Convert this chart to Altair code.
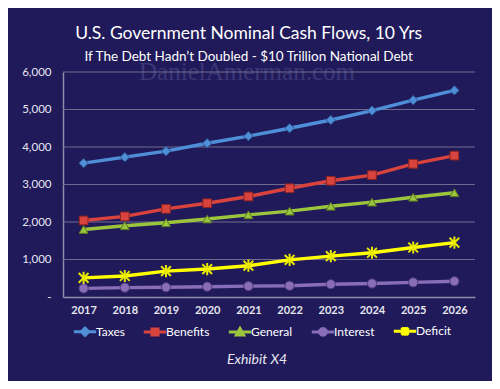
import altair as alt
import pandas as pd

years = ["2017", "2018", "2019", "2020", "2021", "2022", "2023", "2024", "2025", "2026"]
series_names = ["Taxes", "Benefits", "General", "Interest", "Deficit"]
taxes = [3570, 3730, 3890, 4100, 4290, 4500, 4720, 4970, 5250, 5510]
benefits = [2040, 2150, 2350, 2500, 2680, 2900, 3100, 3250, 3550, 3770]
general = [1800, 1900, 1980, 2080, 2190, 2290, 2420, 2530, 2660, 2780]
interest = [230, 250, 260, 275, 290, 300, 340, 360, 390, 420]
deficit = [510, 560, 690, 745, 835, 990, 1090, 1180, 1320, 1450]
y_ticks = [0, 1000, 2000, 3000, 4000, 5000, 6000]
grid_values = [1000, 2000, 3000, 4000, 5000, 6000]

title_text = "U.S. Government Nominal Cash Flows, 10 Yrs"
subtitle_text = "If The Debt Hadn\u2019t Doubled - $10 Trillion National Debt"
watermark_text = "DanielAmerman.com"
footer_text = "Exhibit X4"

values = {"Taxes": taxes, "Benefits": benefits, "General": general,
          "Interest": interest, "Deficit": deficit}
rows = []
for s in series_names:
    for yr, v in zip(years, values[s]):
        rows.append({"year": yr, "series": s, "value": v})
df = pd.DataFrame(rows)

BG = "#201a5b"
colors = ["#4f8fd8", "#d8433d", "#9cc53e", "#8a6db8", "#ffff00"]
edge = ["#2c5c98", "#8e2521", "#5b7c1f", "#4e3b78", "#e8e800"]
point_shapes = ["diamond", "square", "triangle-up", "circle",
                "M-1,-1L1,1M1,-1L-1,1M0,-1.25L0,1.25"]
point_sizes = [85, 75, 80, 85, 95]
legend_paths = [
    "M-2.8,0H2.8M0,-0.9L0.9,0L0,0.9L-0.9,0Z",
    "M-2.8,0H2.8M-0.75,-0.75H0.75V0.75H-0.75Z",
    "M-2.8,0H2.8M0,-0.9L0.9,0.7H-0.9Z",
    "M-2.8,0H2.8M-0.8,-0.33L-0.33,-0.8L0.33,-0.8L0.8,-0.33L0.8,0.33L0.33,0.8L-0.33,0.8L-0.8,0.33Z",
    "M-2.8,0H2.8M-0.9,-0.9L0.9,0.9M0.9,-0.9L-0.9,0.9M0,-1.1L0,1.1",
]

FONT = "Lato"
color_scale = alt.Scale(domain=series_names, range=colors)

x_axis = alt.Axis(labelAngle=0, ticks=False, domain=True, domainColor="#8f8ea8",
                  domainWidth=1.5, labelPadding=7, labelFont=FONT, labelFontSize=11,
                  labelFontWeight="bold", labelColor="#e6e6ee", grid=False)
y_axis = alt.Axis(values=y_ticks, ticks=False, domain=True, domainColor="#8f8ea8",
                  domainWidth=1.5, grid=False,
                  labelPadding=12, labelFont=FONT, labelFontSize=11.5,
                  labelColor="#e6e6ee", labelOverlap=False,
                  labelExpr="datum.value == 0 ? '-' : format(datum.value, ',')")
y_scale = alt.Scale(domain=[0, 6000], nice=False)


def xe():
    return alt.X("year:O", title=None, axis=x_axis)


def ye(field="value:Q"):
    return alt.Y(field, title=None, scale=y_scale, axis=y_axis)


base = alt.Chart(df)

gridlines = alt.Chart(pd.DataFrame({"value": grid_values})).mark_rule(
    color="#6e6c8e", strokeWidth=1.2).encode(y=ye())

watermark = alt.Chart(pd.DataFrame({"t": [watermark_text]})).mark_text(
    font="Liberation Serif", fontSize=25, color="#3c3776", align="center",
    baseline="alphabetic").encode(text="t:N", x=alt.value(184), y=alt.value(8))

lines = base.mark_line(strokeWidth=3.5).encode(
    x=xe(), y=ye(),
    color=alt.Color("series:N", scale=color_scale, sort=series_names, title=None),
    order=alt.Order("year:O"),
)

point_layers = []
for i, s in enumerate(series_names):
    is_star = i == 4
    point_layers.append(
        base.transform_filter(alt.datum.series == s).mark_point(
            filled=True, shape=point_shapes[i], size=point_sizes[i], opacity=1,
            stroke=edge[i], strokeWidth=2 if is_star else 1, fill=colors[i]
        ).encode(x=xe(), y=ye())
    )

legend_layer = base.transform_filter("datum.value < -1").mark_point(
    filled=True, strokeWidth=3, opacity=1
).encode(
    color=alt.Color("series:N", scale=color_scale, sort=series_names, title=None,
                    legend=alt.Legend(orient="none", direction="horizontal",
                                      legendX=16, legendY=253, title=None,
                                      symbolSize=64, symbolStrokeWidth=3,
                                      labelFont=FONT, labelFontSize=12,
                                      labelColor="white", labelOffset=5,
                                      columnPadding=12, padding=0,
                                      symbolOpacity=1)),
    stroke=alt.Stroke("series:N", scale=alt.Scale(domain=series_names, range=colors),
                      sort=series_names, title=None),
    shape=alt.Shape("series:N", scale=alt.Scale(domain=series_names, range=legend_paths),
                    sort=series_names, title=None),
)

footer = alt.Chart(pd.DataFrame({"t": [footer_text]})).mark_text(
    font=FONT, fontSize=14, fontStyle="italic", color="#e6e6ee", align="center",
    baseline="middle").encode(text="t:N", x=alt.value(194), y=alt.value(288))

chart = alt.layer(watermark, gridlines, lines, *point_layers, legend_layer, footer).properties(
    width=412, height=225,
    title=alt.TitleParams(text=title_text, subtitle=subtitle_text, font=FONT, fontSize=17.5,
                          fontWeight="normal", color="white", subtitleFont=FONT,
                          subtitleFontSize=13.5, subtitleColor="white", anchor="middle",
                          frame="bounds", offset=-3, subtitlePadding=7),
    autosize=alt.AutoSizeParams(type="none"),
    padding={"left": 55, "top": 64, "right": 17, "bottom": 84},
    background=BG,
).configure_view(stroke=None)

chart.save("out.html", embed_options={"renderer": "svg", "actions": False})
